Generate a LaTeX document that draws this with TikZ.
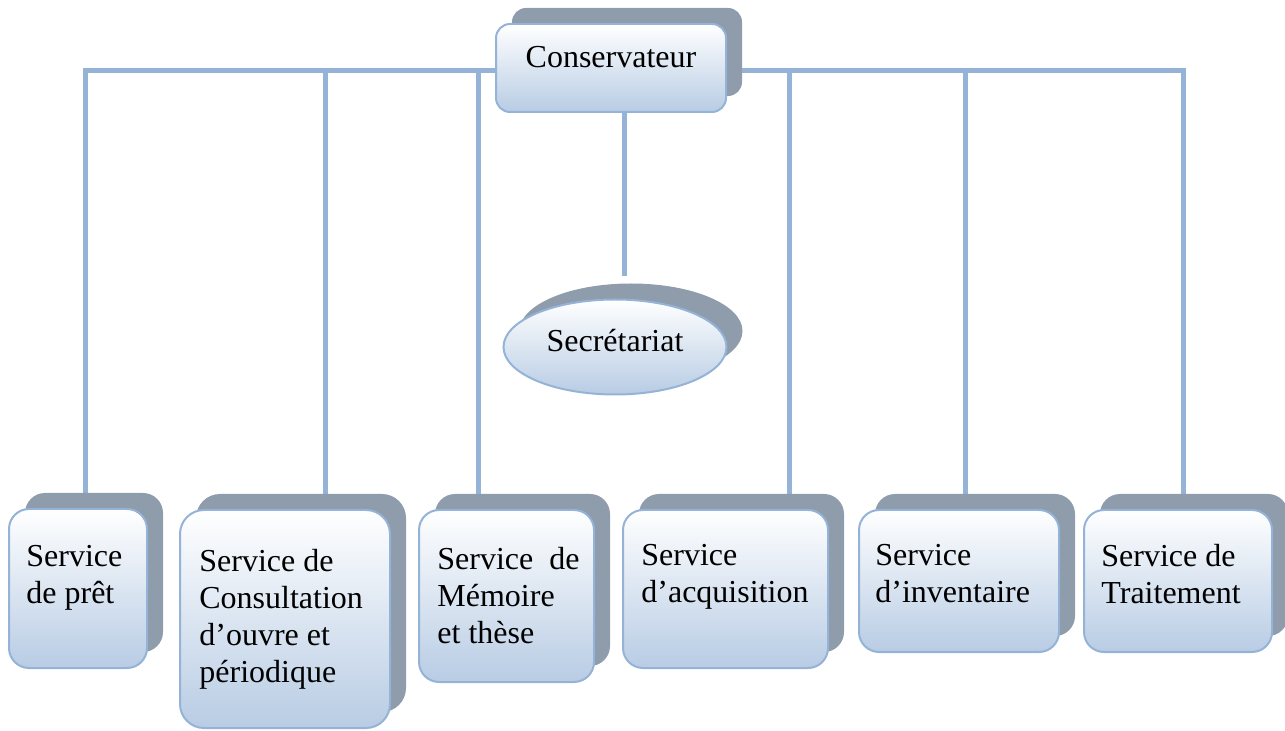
\documentclass[tikz,border=0pt]{standalone}
\usepackage{fontspec}
\setmainfont{Liberation Serif}
\usetikzlibrary{shadows,backgrounds,shapes.geometric}

\definecolor{linkblue}{HTML}{95B3D7}
\definecolor{boxblue}{HTML}{B8CCE4}
\definecolor{shadowgray}{HTML}{8E9CAC}

\tikzset{
  unit/.style={draw=linkblue, line width=1pt, rounded corners=10pt, inner sep=0pt,
    top color=white, bottom color=boxblue,
    drop shadow={shadow xshift=8pt, shadow yshift=8pt, fill=shadowgray, opacity=1}},
  servtext/.style={anchor=north west, align=left, inner sep=0pt},
  link/.style={draw=linkblue, line width=2.5pt}
}

\begin{document}
\begin{tikzpicture}[x=0.5pt, y=-0.5pt, font=\fontsize{16pt}{18.5pt}\selectfont]
    \useasboundingbox (0,0) rectangle (1285,731);

    \node[unit, rounded corners=7pt, minimum width=115pt, minimum height=44pt,
          text height=11pt, text depth=11pt] (cons) at (611,68) {Conservateur};
    \node[unit, ellipse, minimum width=111.5pt, minimum height=47.5pt,
          text height=11pt, text depth=6pt] (sec) at (615,347) {Secrétariat};

    \node[unit, minimum width=69pt, minimum height=79.5pt] (pret) at (78,588.5) {};
    \node[unit, rounded corners=12pt, minimum width=105pt, minimum height=109pt] (consult) at (285,619) {};
    \node[unit, minimum width=87.5pt, minimum height=86pt] (memoire) at (506.5,596) {};
    \node[unit, minimum width=102.5pt, minimum height=79pt] (acquis) at (725.5,589) {};
    \node[unit, minimum width=100pt, minimum height=71pt] (invent) at (959,581) {};
    \node[unit, minimum width=94pt, minimum height=71pt] (traite) at (1178,581) {};

    \node[servtext] (pretT) at ([xshift=9pt,yshift=-18.5pt]pret.north west) {Service\\de prêt};
    \node[servtext] (consultT) at ([xshift=10pt,yshift=-20pt]consult.north west) {Service de\\Consultation\\d’ouvre et\\périodique};
    \node[servtext] (memoireT) at ([xshift=9.5pt,yshift=-19pt]memoire.north west) {Service\ \ de\\Mémoire\\et thèse};
    \node[servtext] (acquisT) at ([xshift=9.5pt,yshift=-17.5pt]acquis.north west) {Service\\d’acquisition};
    \node[servtext] (inventT) at ([xshift=8.5pt,yshift=-17.5pt]invent.north west) {Service\\d’inventaire};
    \node[servtext] (traiteT) at ([xshift=9pt,yshift=-17.5pt]traite.north west) {Service de\\Traitement};

    \begin{scope}[on background layer]
        \draw[link] ([yshift=-1.5pt]cons.center) -| ([xshift=3.5pt]pret.north);
        \draw[link] ([yshift=-1.5pt]cons.center) -| ([xshift=20pt]consult.north);
        \draw[link] ([yshift=-1.5pt]cons.center) -| ([xshift=-14.25pt]memoire.north);
        \draw[link] ([yshift=-1.5pt]cons.center) -| ([xshift=31.75pt]acquis.north);
        \draw[link] ([yshift=-1.5pt]cons.center) -| ([xshift=3pt]invent.north);
        \draw[link] ([yshift=-1.5pt]cons.center) -| ([xshift=2.5pt]traite.north);
        \draw[link] ([xshift=6.5pt]cons.south) -- ([xshift=4.5pt,yshift=11pt]sec.north);
    \end{scope}
\end{tikzpicture}
\end{document}
